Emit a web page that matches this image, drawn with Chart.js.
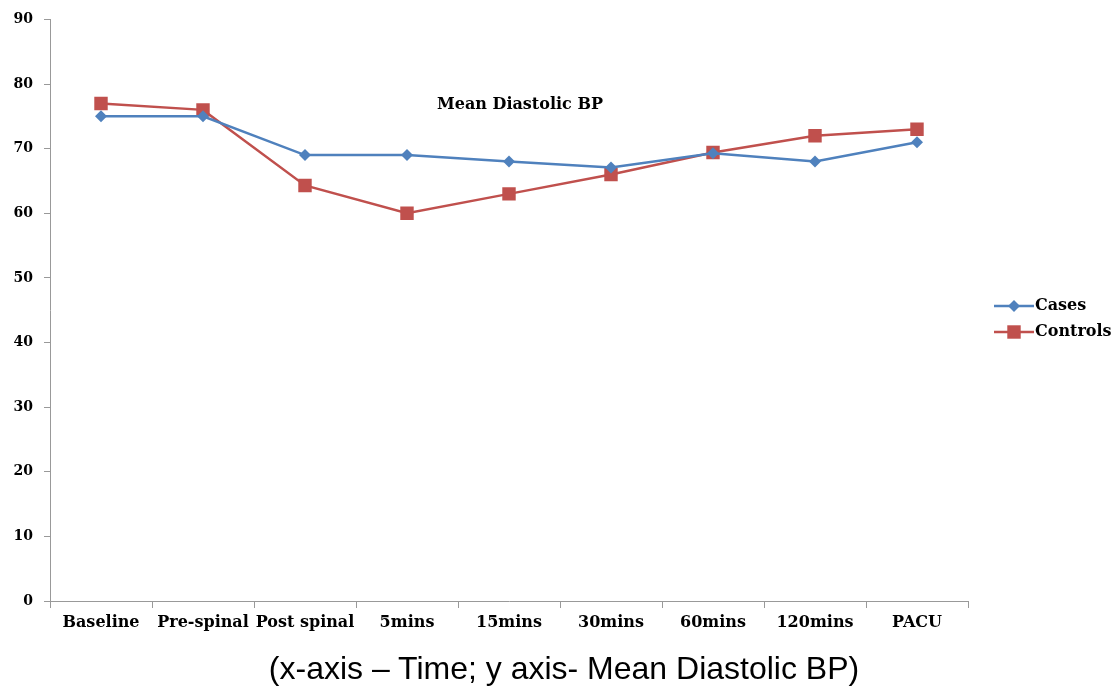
<!DOCTYPE html>
<html><head><meta charset="utf-8">
<script src="https://cdn.jsdelivr.net/npm/chart.js@4"></script>
<style>
html,body{margin:0;padding:0;background:#fff;}
#wrap{position:relative;width:1115px;height:691px;}
#c{position:absolute;left:0;top:0;}
#cap{position:absolute;left:0;width:1128px;top:650px;text-align:center;font-family:"Liberation Sans",Arial,sans-serif;font-size:32px;line-height:36px;color:#000;}
</style></head><body>
<div id="wrap"><canvas id="c" width="1115" height="691"></canvas>
<div id="cap">(x-axis – Time; y axis- Mean Diastolic BP)</div></div>
<script>
const categories = ["Baseline","Pre-spinal","Post spinal","5mins","15mins","30mins","60mins","120mins","PACU"];
const cases = [75,75,69,69,68,67.1,69.3,68,71];
const controls = [77,76,64.3,60,63,66,69.4,72,73];
const yTicks = [0,10,20,30,40,50,60,70,80,90];
const chartTitle = "Mean Diastolic BP";

const serif = '"DejaVu Serif",serif';

const overlay = {
  id:'overlay',
  afterDraw(chart){
    const ctx = chart.ctx, a = chart.chartArea;
    ctx.save();
    ctx.fillStyle = '#000';
    ctx.font = 'bold 16px ' + serif;
    ctx.textAlign = 'center';
    ctx.textBaseline = 'middle';
    ctx.fillText(chartTitle, a.left + (a.right - a.left) * 0.512, a.top + 85);
    const ds = chart.data.datasets;
    const lx = a.right + 26, ly0 = 306, gap = 26;
    ds.forEach((d, i) => {
      const y = ly0 + i * gap;
      ctx.strokeStyle = d.borderColor; ctx.lineWidth = 2.5;
      ctx.beginPath(); ctx.moveTo(lx, y); ctx.lineTo(lx + 40, y); ctx.stroke();
      ctx.fillStyle = d.backgroundColor;
      Chart.helpers.drawPoint(ctx, {pointStyle: d.pointStyle, radius: d.pointRadius, rotation: 0, borderWidth: 0}, lx + 20, y);
      ctx.fillStyle = '#000';
      ctx.textAlign = 'left';
      ctx.font = 'bold 16px ' + serif;
      ctx.fillText(d.label, lx + 41, y);
    });
    ctx.restore();
  }
};

new Chart(document.getElementById('c'), {
  type:'line',
  data:{
    labels: categories,
    datasets:[
      {label:'Cases', data:cases, borderColor:'#4F81BD', backgroundColor:'#4F81BD', borderWidth:2.5, pointStyle:'rectRot', pointRadius:6, pointBorderWidth:0, tension:0},
      {label:'Controls', data:controls, borderColor:'#C0504D', backgroundColor:'#C0504D', borderWidth:2.5, pointStyle:'rect', pointRadius:9.5, pointBorderWidth:0, tension:0}
    ]
  },
  options:{
    responsive:false,
    animation:false,
    layout:{padding:{left:0,right:147,top:18,bottom:40}},
    plugins:{legend:{display:false}, title:{display:false}, tooltip:{enabled:false}},
    scales:{
      x:{
        offset:true,
        grid:{offset:true, drawOnChartArea:false, drawTicks:true, tickLength:7, color:'#999'},
        border:{display:true, color:'#999', width:1},
        ticks:{color:'#000', font:{family:serif, weight:'bold', size:16}, padding:5, maxRotation:0, autoSkip:false},
        afterFit(s){ s.height = 50; }
      },
      y:{
        min:0, max:90,
        afterBuildTicks(s){ s.ticks = yTicks.map(v => ({value:v})); },
        grid:{drawOnChartArea:false, drawTicks:true, tickLength:6, color:'#999'},
        border:{display:true, color:'#999', width:1},
        ticks:{color:'#000', font:{family:serif, weight:'bold', size:14}, padding:11},
        afterFit(s){ s.width = 50; }
      }
    }
  },
  plugins:[overlay]
});
</script>
</body></html>
